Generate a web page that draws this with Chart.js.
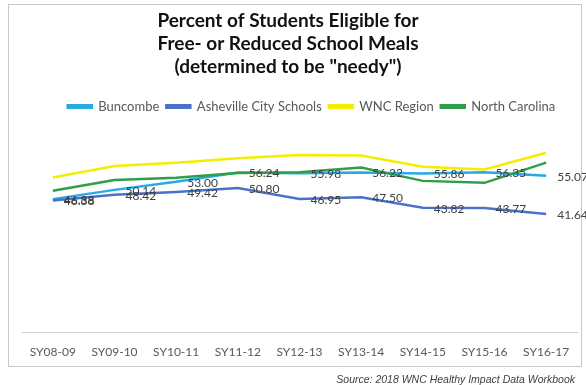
<!DOCTYPE html>
<html>
<head>
<meta charset="utf-8">
<script src="https://cdn.jsdelivr.net/npm/chart.js@4.4.1/dist/chart.umd.min.js"></script>
<style>
  html, body { margin: 0; padding: 0; background: #fff; }
  body { width: 586px; height: 385px; position: relative; overflow: hidden; }
  #marco {
    position: absolute; left: 8px; top: 4px; width: 574px; height: 363px;
    border: 1px solid #c8c8c8; box-sizing: border-box;
  }
  #grafico { position: absolute; left: 0; top: 0; }
  #fonte {
    position: absolute; right: 11px; top: 373px;
    font: italic 10.5px "Liberation Sans", Arial, sans-serif; color: #404040;
  }
</style>
</head>
<body>
<div id="marco"></div>
<canvas id="grafico" width="586" height="385"></canvas>
<div id="fonte">Source: 2018 WNC Healthy Impact Data Workbook</div>

<script>
const anos      = ['SY08-09', 'SY09-10', 'SY10-11', 'SY11-12', 'SY12-13', 'SY13-14', 'SY14-15', 'SY15-16', 'SY16-17'];
const buncombe  = [46.88, 50.14, 53.00, 56.24, 55.98, 56.22, 55.86, 56.35, 55.07];
const asheville = [46.38, 48.42, 49.42, 50.80, 46.95, 47.50, 43.82, 43.77, 41.64];
const wnc       = [54.5, 58.5, 59.7, 61.3, 62.4, 62.2, 58.3, 57.3, 63.2];
const carolina  = [49.8, 53.6, 54.4, 56.1, 56.3, 58.0, 53.3, 52.6, 59.7];

const titulo = ['Percent of Students Eligible for', 'Free- or Reduced School Meals', '(determined to be "needy")'];

// rótulos de valor à direita de cada ponto (só nas séries marcadas)
const rotulosValor = {
    id: 'rotulosValor',
    afterDatasetsDraw(chart) {
        const ctx = chart.ctx;
        ctx.save();
        ctx.font = '12px Lato, sans-serif';
        ctx.fillStyle = '#404040';
        ctx.textAlign = 'left';
        ctx.textBaseline = 'middle';
        chart.data.datasets.forEach((ds, i) => {
            if (!ds.rotulos) return;
            chart.getDatasetMeta(i).data.forEach((pt, j) => {
                ctx.fillText(ds.data[j].toFixed(2), pt.x + 11, pt.y + 1);
            });
        });
        ctx.restore();
    }
};

// título um pouco à esquerda e legenda um pouco à direita do centro
const deslocaBlocos = {
    id: 'deslocaBlocos',
    afterLayout(chart) {
        const mover = (box, dx) => { if (box) { box.left += dx; box.right += dx; } };
        mover(chart.titleBlock, -11.5);
        mover(chart.legend, 12);
    }
};

function serie(label, data, cor, ordem, rotulos) {
    return {
        label, data, rotulos,
        borderColor: cor,
        backgroundColor: cor,
        borderWidth: 2.5,
        pointRadius: 0,
        tension: 0,
        order: ordem,
        clip: false,
    };
}

new Chart(document.getElementById('grafico'), {
    type: 'line',
    data: {
        labels: anos,
        datasets: [
            serie('Buncombe',              buncombe,  '#26a9e6', 3, true),
            serie('Asheville City Schools', asheville, '#4a72c8', 2, true),
            serie('WNC Region',            wnc,       '#f2ee00', 1, false),
            serie('North Carolina',        carolina,  '#2f9e48', 0, false),
        ]
    },
    options: {
        responsive: false,
        animation: false,
        devicePixelRatio: 1,
        layout: { padding: { left: 22, right: 9, top: 0, bottom: 12.6 } },
        plugins: {
            title: {
                display: true,
                text: titulo,
                color: '#111',
                font: { family: 'Lato', size: 19, weight: 'bold', lineHeight: 1.21 },
                padding: { top: 9, bottom: 15 }
            },
            legend: {
                position: 'top',
                labels: {
                    boxWidth: 24, boxHeight: 2.5,
                    padding: 7,
                    color: '#595959',
                    font: { family: 'Lato', size: 13 },
                    sort: (a, b) => a.datasetIndex - b.datasetIndex
                }
            },
            tooltip: { enabled: false }
        },
        scales: {
            x: {
                offset: true,
                grid: { display: false, drawTicks: false },
                border: { display: true, color: '#d0d0d0', width: 1 },
                ticks: { color: '#595959', padding: 12.8, font: { family: 'Lato', size: 12 } }
            },
            y: {
                display: false,
                min: 0,
                max: 73.67
            }
        }
    },
    plugins: [rotulosValor, deslocaBlocos]
});
</script>
</body>
</html>
